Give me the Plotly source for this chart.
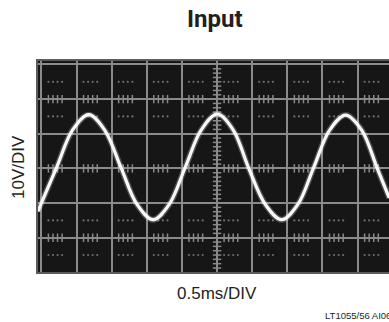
"""オシロスコープ画面風の入力波形チャート."""

import plotly.graph_objects as go

# 波形（時間 ms / 電圧 V）— 画像から読み取った値
time_ms = [-0.05, -0.012, 0.217, 0.445, 0.674, 0.903, 1.132, 1.361, 1.59,
           1.819, 2.047, 2.275, 2.504, 2.733, 2.95, 3.19, 3.42, 3.65,
           3.876, 4.10, 4.33, 4.56, 4.78, 4.95]
volts = [-12.4, -10.6, 0.3, 11.1, 15.5, 11.0, 0.3, -10.4, -14.8,
         -10.4, 0.3, 11.1, 15.7, 11.0, 0.1, -10.5, -14.8, -10.4,
         0.3, 11.0, 15.4, 11.0, 0.0, -8.5]

title_text = "Input"
y_label = "10V/DIV"
x_label = "0.5ms/DIV"
footnote = "LT1055/56 AI06"

# 目盛り（1 DIV あたり）
T_DIV = 0.5   # ms
V_DIV = 10.0  # V
X_RANGE = [-0.048, 4.947]
Y_RANGE = [-29.9, 31.0]

GRID = "#8a8a8a"
TEXT = "#231f20"

fig = go.Figure()

# 目盛り線上の小さな刻み（水平線）
offsets = [0.2, 0.33, 0.46, 0.59]
tick_x = [(k + o) * T_DIV for k in range(-1, 10) for o in offsets]
for yv in [-20, 0, 20]:
    fig.add_trace(go.Scatter(
        x=tick_x, y=[yv] * len(tick_x), mode="markers",
        marker=dict(symbol="line-ns", size=6, line=dict(color=GRID, width=1.5)),
        hoverinfo="skip", showlegend=False,
    ))

# 点線の行
for yv in [-25, -15, 15, 25]:
    fig.add_trace(go.Scatter(
        x=tick_x, y=[yv] * len(tick_x), mode="markers",
        marker=dict(symbol="circle", size=2.2, color="#6e6e6e"),
        hoverinfo="skip", showlegend=False,
    ))

# 中央の縦線上の刻み
tick_y = [j * V_DIV / 8 for j in range(-24, 25) if j % 8 != 0]
fig.add_trace(go.Scatter(
    x=[2.5] * len(tick_y), y=tick_y, mode="markers",
    marker=dict(symbol="line-ew", size=6, line=dict(color=GRID, width=1.5)),
    hoverinfo="skip", showlegend=False,
))

# 波形（グロー + 本線）
fig.add_trace(go.Scatter(
    x=time_ms, y=volts, mode="lines",
    line=dict(color="rgba(255,255,255,0.25)", width=6, shape="spline", smoothing=1.0),
    hoverinfo="skip", showlegend=False,
))
fig.add_trace(go.Scatter(
    x=time_ms, y=volts, mode="lines",
    line=dict(color="#f8f8f8", width=3.2, shape="spline", smoothing=1.0),
    showlegend=False,
))

fig.update_xaxes(
    range=X_RANGE, tick0=0, dtick=T_DIV, showgrid=True, gridcolor=GRID,
    gridwidth=1.5, showticklabels=False, ticks="", zeroline=False,
    showline=True, linecolor="#5c5c5c", linewidth=2, mirror=True,
)
fig.update_yaxes(
    range=Y_RANGE, tick0=0, dtick=V_DIV, showgrid=True, gridcolor=GRID,
    gridwidth=1.5, showticklabels=False, ticks="", zeroline=False,
    showline=True, linecolor="#5c5c5c", linewidth=2, mirror=False,
)

annotations = [
    dict(text=f"<b>{title_text}</b>", x=0.504, y=1.199,
         font=dict(family="Roboto, sans-serif", size=24, color=TEXT)),
    dict(text=y_label, x=-0.057, y=0.4976, textangle=-90,
         font=dict(family="Liberation Sans, Arial, sans-serif", size=17, color=TEXT)),
    dict(text=x_label, x=0.51, y=-0.102,
         font=dict(family="Liberation Sans, Arial, sans-serif", size=17, color=TEXT)),
    dict(text=footnote, x=0.811, y=-0.204, xanchor="left",
         font=dict(family="Liberation Sans, Arial, sans-serif", size=9.5, color=TEXT)),
]
for a in annotations:
    a.setdefault("xanchor", "center")
    fig.add_annotation(xref="paper", yref="paper", yanchor="middle",
                       showarrow=False, **a)

fig.update_layout(
    width=389, height=322,
    margin=dict(l=38, r=0, t=61, b=50),
    paper_bgcolor="white", plot_bgcolor="#161616",
)

# ページ本体の既定余白を消してウィンドウにぴったり合わせる
fig.write_html(
    "out.html",
    config={"displayModeBar": False},
    post_script="document.body.style.margin = '0';",
)
